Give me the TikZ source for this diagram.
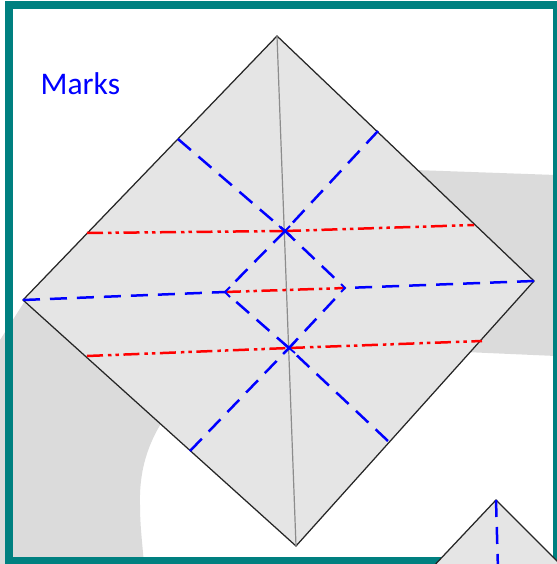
\documentclass[tikz,border=0pt]{standalone}
\usepackage{fontspec}
\setmainfont{Carlito}
\definecolor{frameteal}{RGB}{0,128,128}
\definecolor{paper}{RGB}{229,229,229}
\definecolor{bandgray}{RGB}{219,219,219}
\tikzset{
  bandshape/.style={fill=bandgray,draw=none},
  frameline/.style={draw=frameteal,line width=8.2pt},
  sheet/.style={fill=paper,draw=black!85,line width=1.25pt,line join=miter},
  valley/.style={draw=blue,line width=2.5pt,dash pattern=on 17pt off 10pt},
  valleygap/.style={draw=blue,line width=2.5pt,dash pattern=on 0pt off 15pt on 17pt off 10pt on 17pt off 10pt on 17pt off 100pt},
  mountain/.style={draw=red,line width=2.5pt,dash pattern=on 16pt off 5pt on 3.5pt off 4pt on 3.5pt off 4.5pt},
  crease/.style={draw=black!45,line width=1.2pt},
  tipmark/.style={draw=blue,line width=1.8pt}
}
\begin{document}
\begin{tikzpicture}[x=1pt,y=-1pt]
\useasboundingbox (0,0) rectangle (556,564);
% coordinates
\coordinate (T) at (277,36);
\coordinate (L) at (23,300);
\coordinate (B) at (296,546);
\coordinate (R) at (534,281);
\coordinate (XU) at (285,231);
\coordinate (XD) at (289,348);
\coordinate (ML) at (225,292);
\coordinate (MR) at (345,288);
\coordinate (R1a) at (87,233);
\coordinate (R1b) at (474,225);
\coordinate (R2a) at (87,356);
\coordinate (R2b) at (482,341);
\coordinate (E1) at (178,139);
\coordinate (E2) at (378,131);
\coordinate (E3) at (190,451);
\coordinate (E4) at (388,441);
\coordinate (A) at (496,500);
\coordinate (AL) at (430,570);
\coordinate (AR) at (566,570);
\coordinate (AB) at (498,570);
% background bands
\fill[bandshape] (0,340) -- (30,293) -- (170,410) .. controls (148,440) and (139,470) .. (140,505) .. controls (140,525) and (142,540) .. (144,564) -- (0,564) -- cycle;
\fill[bandshape] (415,170) -- (556,175) -- (556,356) -- (465,352) -- cycle;
% frame
\draw[frameline] (8.7,5) rectangle (557.5,560.7);
% main sheet
\draw[sheet] (T) -- (R) -- (B) -- (L) -- cycle;
\draw[crease] (T) -- (B);
% small sheet
\draw[sheet] (AL) -- (A) -- (AR);
\path[valley] (A) -- (AB);
% mountain folds
\path[mountain] (R1a) -- (XU);
\path[mountain] (XU) -- (R1b);
\path[mountain] (R2a) -- (XD);
\path[mountain] (XD) -- (R2b);
\path[mountain] (ML) -- (MR);
% valley folds
\path[valley] (L) -- (ML);
\path[valley] (R) -- (MR);
\path[valley] (E1) -- (XU);
\path[valley] (E2) -- (XU);
\path[valleygap] (MR) -- (XU);
\path[valleygap] (ML) -- (XU);
\path[valleygap] (ML) -- (XD);
\path[valleygap] (MR) -- (XD);
\path[valley] (E3) -- (XD);
\path[valley] (E4) -- (XD);
% little crossings
\draw[tipmark] ([shift={(-6,-5)}]XU) -- ([shift={(6,5)}]XU);
\draw[tipmark] ([shift={(-6,-5)}]XD) -- ([shift={(6,5)}]XD);
\draw[tipmark] ([shift={(6,-6)}]XD) -- ([shift={(-6,6)}]XD);
\draw[tipmark] ([shift={(5,-5)}]XU) -- ([shift={(-5,5)}]XU);
% arrow ticks
\draw[tipmark] ([shift={(5,-5)}]ML) -- (ML) -- ([shift={(5,5)}]ML);
\draw[tipmark] ([shift={(-4,-4)}]MR) -- (MR) -- ([shift={(-4,4)}]MR);
\node[text=blue,font=\fontsize{31.5}{33}\selectfont,anchor=base west,inner sep=0pt] (title) at (40.5,95) {Marks};
\end{tikzpicture}
\end{document}
